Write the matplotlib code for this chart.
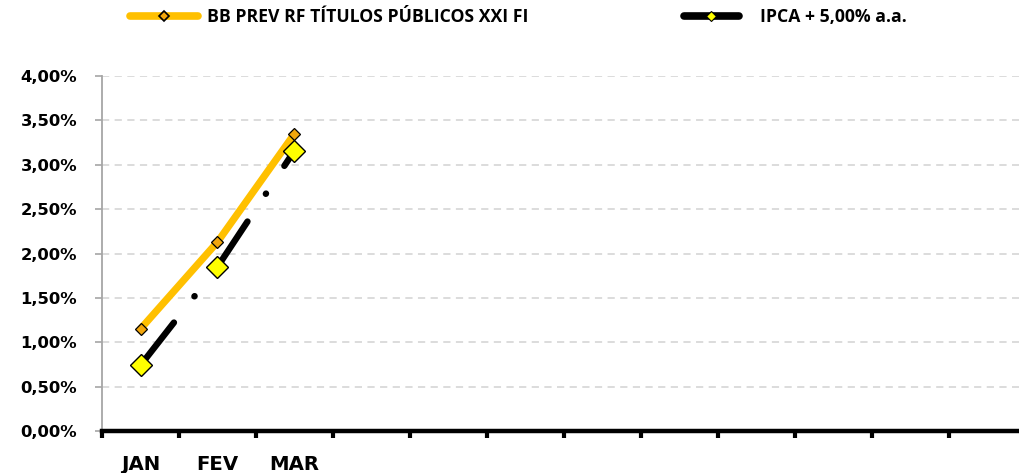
import matplotlib
matplotlib.use("Agg")
import matplotlib.pyplot as plt
from matplotlib.lines import Line2D
from matplotlib.ticker import FuncFormatter, FixedLocator

plt.rcParams['font.family'] = ['Open Sans', 'DejaVu Sans']

categories = ["JAN", "FEV", "MAR", "", "", "", "", "", "", "", "", ""]
bb_prev = [1.15, 2.13, 3.35]
ipca = [0.74, 1.85, 3.16]
series_names = ["BB PREV RF TÍTULOS PÚBLICOS XXI FI", "IPCA + 5,00% a.a."]
y_ticks = [0, 0.5, 1.0, 1.5, 2.0, 2.5, 3.0, 3.5, 4.0]

fig = plt.figure(figsize=(10.2, 4.73), dpi=100)
ax = fig.add_axes([102/1020, 42/473, 924/1020, 355/473])

x_all = list(range(1, len(categories) + 1))
ax.set_xlim(0.5, len(categories) + 0.5)
ax.set_ylim(0, 4.0)

orange = '#FFC000'
bb_marker = '#F2A60C'

# BB line
xb = x_all[:len(bb_prev)]
ax.plot(xb, bb_prev, color=orange, lw=5.2, solid_capstyle='round', zorder=3)
ax.plot(xb, bb_prev, ls='none', marker='D', ms=6.2, mfc=bb_marker, mec='black',
        mew=0.9, zorder=4)

# IPCA line, dash pattern restarting at every segment
xi = x_all[:len(ipca)]
for i in range(len(ipca) - 1):
    ax.plot(xi[i:i+2], ipca[i:i+2], color='black', lw=4.6,
            dashes=(8.5, 5.2, 0.05, 5.2), dash_capstyle='round',
            solid_capstyle='round', zorder=2)
ax.plot(xi, ipca, ls='none', marker='D', ms=11.5, mfc='#FFFF00', mec='black',
        mew=1.0, zorder=5)

# grid
for y in y_ticks[1:]:
    ax.axhline(y, color='#D9D9D9', lw=1.3, dashes=(4, 3), zorder=1)

ax.yaxis.set_major_locator(FixedLocator(y_ticks))
ax.yaxis.set_major_formatter(FuncFormatter(lambda v, p: f"{v:.2f}%".replace('.', ',')))
ax.tick_params(axis='y', length=5, width=1.2, color='#A6A6A6', labelsize=11.8, pad=13)
for lab in ax.get_yticklabels():
    lab.set_fontfamily('DejaVu Sans')
    lab.set_fontweight('bold')

ax.set_xticks([i + 0.5 for i in range(0, len(categories) + 1)])
ax.set_xticklabels([])
ax.set_xticks(x_all, minor=True)
ax.set_xticklabels(categories, minor=True, fontsize=14.2, fontweight='bold',
                   fontfamily='DejaVu Sans')
ax.tick_params(axis='x', which='major', length=5, width=3, color='black', direction='out')
ax.tick_params(axis='x', which='minor', length=0, pad=17)

for s in ['top', 'right']:
    ax.spines[s].set_visible(False)
ax.spines['left'].set_color('#A6A6A6')
ax.spines['left'].set_linewidth(1.3)
ax.spines['bottom'].set_color('black')
ax.spines['bottom'].set_linewidth(3.2)
ax.spines['bottom'].set_zorder(6)

h1 = Line2D([], [], color=orange, lw=5.5, marker='D', ms=5.5, mfc=bb_marker,
            mec='black', mew=1.2, solid_capstyle='round')
h2 = Line2D([], [], color='black', lw=5.5, marker='D', ms=5.5, mfc='#FFFF00',
            mec='black', mew=0.8, solid_capstyle='round')
leg1 = fig.legend([h1], series_names[:1], loc='center left',
                  bbox_to_anchor=(130/1020, 1 - 17/473), frameon=False,
                  handlelength=3.85, handletextpad=0.52,
                  borderaxespad=0, borderpad=0,
                  prop={'family': 'Open Sans', 'weight': 'bold', 'size': 12.7})
leg2 = fig.legend([h2], series_names[1:], loc='center left',
                  bbox_to_anchor=(684/1020, 1 - 17/473), frameon=False,
                  handlelength=3.1, handletextpad=1.22,
                  borderaxespad=0, borderpad=0,
                  prop={'family': 'Open Sans', 'weight': 'bold', 'size': 12.7})

fig.savefig("out.png", dpi=100)
